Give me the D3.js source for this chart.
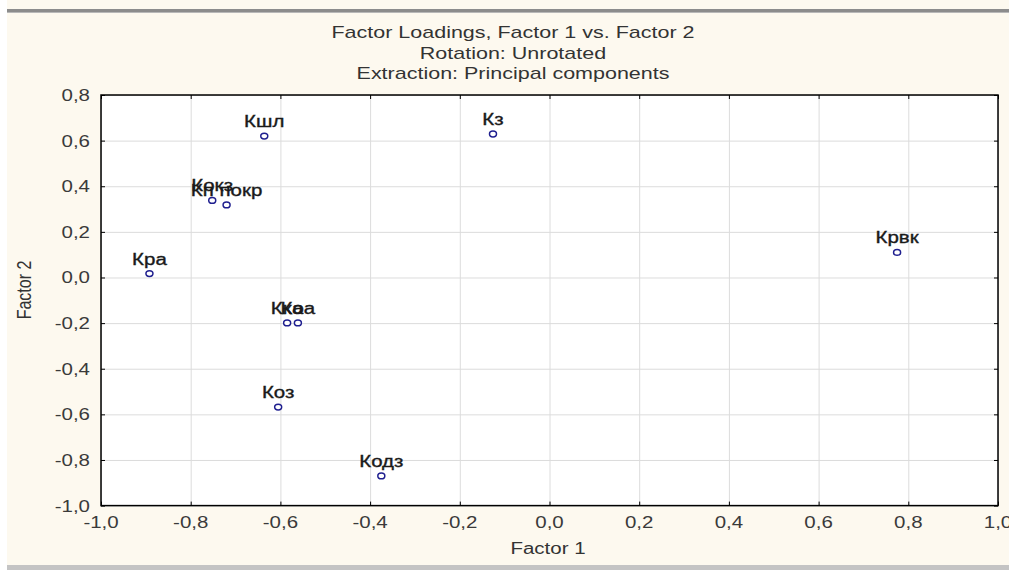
<!DOCTYPE html>
<html><head><meta charset="utf-8">
<script src="https://cdn.jsdelivr.net/npm/d3@7"></script>
<style>body{margin:0;background:#fff}svg{display:block}</style>
</head><body>
<script>
const labels = ["Кшл","Кз","Кокз","Кп покр","Кра","Крвк","Кка","Коа","Коз","Кодз"];
const factor1 = [-0.636,-0.126,-0.752,-0.720,-0.892,0.775,-0.585,-0.561,-0.605,-0.375];
const factor2 = [0.620,0.629,0.338,0.318,0.017,0.110,-0.199,-0.199,-0.568,-0.870];
const ticks = [-1.0,-0.8,-0.6,-0.4,-0.2,0.0,0.2,0.4,0.6,0.8,1.0];
const yTicks = [-1.0,-0.8,-0.6,-0.4,-0.2,0.0,0.2,0.4,0.6,0.8];
const titleLines = ["Factor Loadings, Factor 1 vs. Factor 2","Rotation: Unrotated","Extraction: Principal components"];

const W=1009,H=570;
const L=101,R=998,T=95,B=505.6;
const SX=1.28;
const svg=d3.select("body").append("svg").attr("width",W).attr("height",H);
const font="'Liberation Sans', Arial, sans-serif";
svg.append("rect").attr("width",W).attr("height",H).attr("fill","#fff");
svg.append("rect").attr("x",7).attr("y",0).attr("width",W-7).attr("height",H).attr("fill","#fdf9ef");
svg.append("rect").attr("x",7).attr("y",9).attr("width",W-7).attr("height",4).attr("fill","#8c8c8c");
svg.append("rect").attr("x",7).attr("y",12).attr("width",W-7).attr("height",1).attr("fill","#b8b8b8");
svg.append("rect").attr("x",7).attr("y",565).attr("width",W-7).attr("height",5).attr("fill","#c4c4c4");

const x=d3.scaleLinear().domain([-1,1]).range([L,R]);
const y=d3.scaleLinear().domain([-1,0.8]).range([B,T]);
const fmt=d=>d3.format(".1f")(d).replace(".",",").replace("−","-");

function txt(g, px, py, s, anchor, size, fill, rot){
  const t=g.append("text")
    .attr("transform",`translate(${px},${py})`+(rot?` rotate(${rot})`:"")+` scale(${rot?1:SX},${rot?SX:1})`)
    .attr("text-anchor",anchor).attr("font-family",font).attr("font-size",size)
    .attr("fill",fill).text(s);
  return t;
}

svg.append("rect").attr("x",L).attr("y",T).attr("width",R-L).attr("height",B-T).attr("fill","#fff");
// grid
svg.append("g").attr("transform",`translate(0,${B})`)
  .call(d3.axisBottom(x).tickValues(ticks).tickSize(-(B-T)).tickFormat(""))
  .call(g=>{g.select(".domain").remove();g.selectAll("line").attr("stroke","#dcdcdc");});
svg.append("g").attr("transform",`translate(${L},0)`)
  .call(d3.axisLeft(y).tickValues(yTicks).tickSize(-(R-L)).tickFormat(""))
  .call(g=>{g.select(".domain").remove();g.selectAll("line").attr("stroke","#dcdcdc");});
// inner ticks
const tk=4;
const ax=[
 [d3.axisBottom(x).tickValues(ticks).tickSizeInner(-tk),`translate(0,${B})`],
 [d3.axisTop(x).tickValues(ticks).tickSizeInner(-tk),`translate(0,${T})`],
 [d3.axisLeft(y).tickValues(yTicks).tickSizeInner(-tk),`translate(${L},0)`],
 [d3.axisRight(y).tickValues(yTicks).tickSizeInner(-tk),`translate(${R},0)`]
];
ax.forEach(([a,t])=>{
  svg.append("g").attr("transform",t).call(a.tickSizeOuter(0).tickFormat(""))
   .call(g=>{g.select(".domain").remove();g.selectAll("line").attr("stroke","#000");});
});
svg.append("rect").attr("x",L).attr("y",T).attr("width",R-L).attr("height",B-T)
  .attr("fill","none").attr("stroke","#000").attr("stroke-width",1.5);

// tick labels
const gx=svg.append("g");
ticks.forEach(d=>txt(gx,x(d),B+22,fmt(d),"middle",16,"#3a3a3a"));
const gy=svg.append("g");
yTicks.forEach(d=>txt(gy,L-11,y(d)+6,fmt(d),"end",16,"#3a3a3a"));

// titles
const gt=svg.append("g");
titleLines.forEach((s,i)=>txt(gt,513,38+i*20.5,s,"middle",16.8,"#333"));
txt(svg,548,554,"Factor 1","middle",16,"#333");
txt(svg,31,290,"Factor 2","middle",16,"#333",-90);

// points
const data=labels.map((l,i)=>({l,a:factor1[i],b:factor2[i]}));
const gl=svg.append("g");
data.forEach(d=>txt(gl,x(d.a),y(d.b)-9,d.l,"middle",16,"#1a1a1a")
  .attr("stroke","#1a1a1a").attr("stroke-width",0.35));
svg.append("g").selectAll("ellipse").data(data).join("ellipse")
  .attr("cx",d=>x(d.a)).attr("cy",d=>y(d.b)).attr("rx",3.5).attr("ry",2.9)
  .attr("fill","#fff").attr("stroke","#1f1f8f").attr("stroke-width",1.5);
</script>
</body></html>
